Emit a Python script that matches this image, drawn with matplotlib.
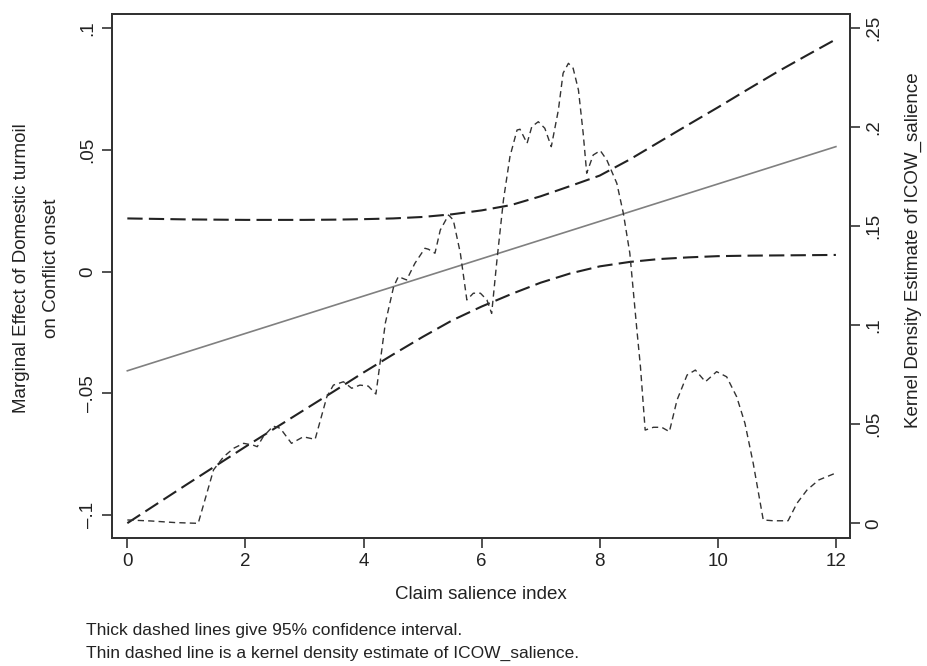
import numpy as np
import matplotlib
matplotlib.use('Agg')
from matplotlib import pyplot as plt

plt.rcParams['font.family'] = ['Liberation Sans', 'DejaVu Sans']
plt.rcParams['lines.scale_dashes'] = False

# marginal effect and 95% CI
ci_x = [0, 0.5, 1, 1.5, 2, 2.5, 3, 3.5, 4, 4.5, 5, 5.5, 6, 6.5, 7, 7.5,
        8, 8.5, 9, 9.5, 10, 10.5, 11, 11.5, 12]
me_x = [0, 12]
me_y = [-0.0407, 0.0514]
upper = [0.0219, 0.0217, 0.0215, 0.0214, 0.0213, 0.0213, 0.0213, 0.0214,
         0.0216, 0.0219, 0.0225, 0.0236, 0.0252, 0.0274, 0.0310, 0.0352,
         0.0395, 0.0460, 0.0532, 0.0604, 0.0675, 0.0748, 0.0820, 0.0888,
         0.0955]
lower = [-0.1033, -0.0954, -0.0875, -0.0797, -0.0719, -0.0643, -0.0567,
         -0.0491, -0.0414, -0.0340, -0.0268, -0.0200, -0.0143, -0.0092,
         -0.0045, -0.0007, 0.0022, 0.0040, 0.0052, 0.0059, 0.0064, 0.0066,
         0.0067, 0.0068, 0.0069]

# kernel density of ICOW_salience
kd_x = [0.0, 0.4, 0.8, 1.2, 1.46, 1.63, 1.80, 1.97, 2.13, 2.2, 2.30, 2.47,
        2.59, 2.78, 2.98, 3.18, 3.38, 3.49, 3.66, 3.80, 3.94, 4.08, 4.21,
        4.37, 4.51, 4.59, 4.73, 4.87, 5.04, 5.10, 5.21, 5.30, 5.44, 5.52,
        5.64, 5.75, 5.86, 5.98, 6.09, 6.17, 6.26, 6.37, 6.48, 6.60, 6.65,
        6.77, 6.85, 6.96, 7.07, 7.18, 7.30, 7.38, 7.47, 7.55, 7.64, 7.72,
        7.78, 7.89, 8.01, 8.12, 8.29, 8.40, 8.51, 8.63, 8.69, 8.77, 8.91,
        9.05, 9.18, 9.31, 9.48, 9.62, 9.79, 9.98, 10.15, 10.32, 10.46,
        10.60, 10.77, 10.94, 11.19, 11.34, 11.51, 11.71, 11.99]
kd_y = [0.0017, 0.0012, 0.0004, 0.0, 0.027, 0.0336, 0.0379, 0.0404, 0.0395,
        0.0387, 0.0437, 0.0491, 0.0480, 0.0404, 0.0437, 0.0424, 0.0640,
        0.0698, 0.0715, 0.0682, 0.0698, 0.0693, 0.0653, 0.1012, 0.1195,
        0.1246, 0.1229, 0.1313, 0.1389, 0.1384, 0.1364, 0.1481, 0.1557,
        0.1532, 0.1364, 0.1128, 0.1162, 0.1162, 0.1128, 0.1060, 0.1330,
        0.1633, 0.1852, 0.1986, 0.1990, 0.1919, 0.2003, 0.2028, 0.1995,
        0.1902, 0.2087, 0.2273, 0.2323, 0.2298, 0.2188, 0.1970, 0.1768,
        0.1860, 0.1882, 0.1835, 0.1717, 0.1566, 0.1364, 0.0976, 0.0791,
        0.0471, 0.0485, 0.0485, 0.0463, 0.0623, 0.0749, 0.0774, 0.0715,
        0.0766, 0.0740, 0.0639, 0.0505, 0.0303, 0.0017, 0.0013, 0.0013,
        0.0101, 0.0168, 0.0219, 0.0253]

left_ticks = [-0.1, -0.05, 0, 0.05, 0.1]
left_labels = ['\u2013.1', '\u2013.05', '0', '.05', '.1']
right_ticks = [0, 0.05, 0.1, 0.15, 0.2, 0.25]
right_labels = ['0', '.05', '.1', '.15', '.2', '.25']
x_ticks = [0, 2, 4, 6, 8, 10, 12]

fig = plt.figure(figsize=(9.27, 6.66), dpi=100)
ax = fig.add_axes([0.1208, 0.1922, 0.7962, 0.7868])
ax2 = ax.twinx()

ax.plot(me_x, me_y, color='#808080', lw=1.2)
ax.plot(ci_x, upper, color='#222222', lw=1.5, dashes=(11, 4.5))
ax.plot(ci_x, lower, color='#222222', lw=1.5, dashes=(11, 4.5))
ax2.plot(kd_x, kd_y, color='#333333', lw=1.0, dashes=(4.5, 3))

ax.set_xlim(-0.26, 12.24)
ax.set_ylim(-0.1094, 0.1059)
ax2.set_ylim(-0.0074, 0.2572)

ax.set_xticks(x_ticks)
ax.set_yticks(left_ticks)
ax.set_yticklabels(left_labels, rotation=90, va='center')
ax2.set_yticks(right_ticks)
ax2.set_yticklabels(right_labels, rotation=90, va='center')

for a in (ax, ax2):
    for s in a.spines.values():
        s.set_color('#333333')
        s.set_linewidth(1.4)
    a.tick_params(length=7, width=1.2, color='#333333', labelsize=13.5,
                  labelcolor='#222222', pad=4)

ax.set_xlabel('Claim salience index', fontsize=13.5, color='#222222', labelpad=11)

fig.text(22 / 927, 1 - 268 / 666, 'Marginal Effect of Domestic turmoil',
         rotation=90, ha='center', va='center', fontsize=13.5, color='#222222')
fig.text(51 / 927, 1 - 268 / 666, 'on Conflict onset',
         rotation=90, ha='center', va='center', fontsize=13.5, color='#222222')
fig.text(913 / 927, 1 - 250 / 666, 'Kernel Density Estimate of ICOW_salience',
         rotation=90, ha='center', va='center', fontsize=13.5, color='#222222')

fig.text(86 / 927, 1 - 630 / 666, 'Thick dashed lines give 95% confidence interval.',
         ha='left', va='center', fontsize=12.5, color='#222222')
fig.text(86 / 927, 1 - 653 / 666,
         'Thin dashed line is a kernel density estimate of ICOW_salience.',
         ha='left', va='center', fontsize=12.5, color='#222222')

fig.savefig('out.png', dpi=100)
